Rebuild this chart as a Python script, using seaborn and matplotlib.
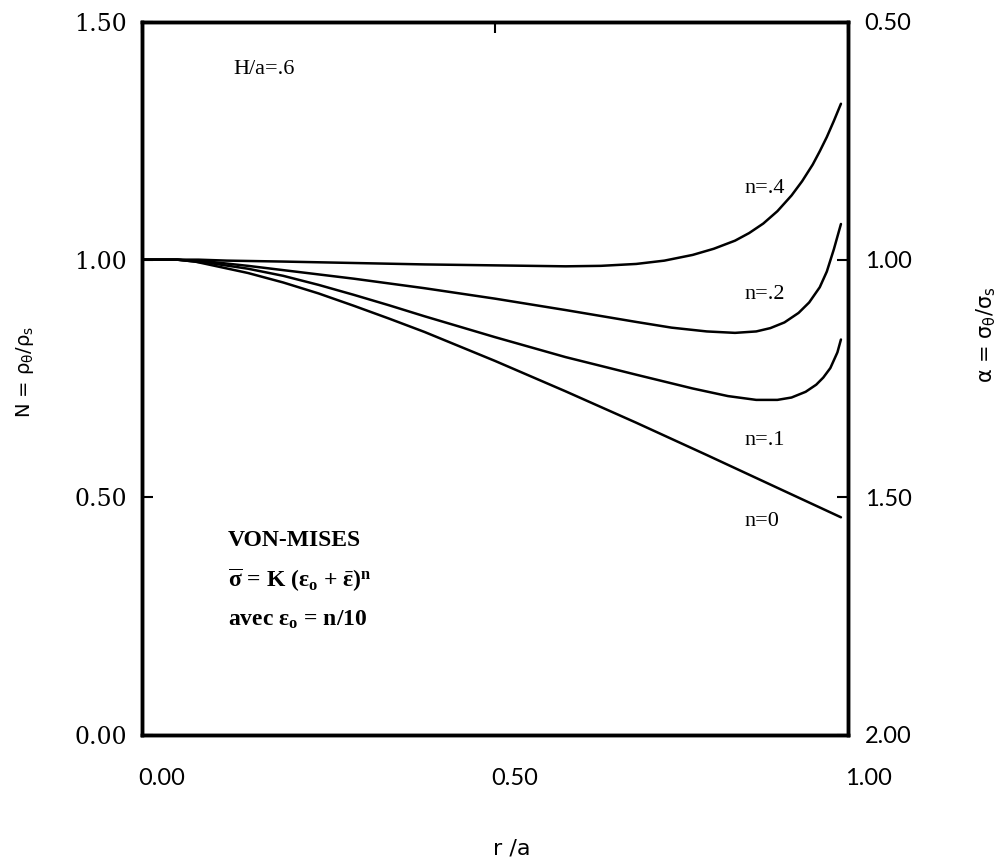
import numpy as np
import pandas as pd
import seaborn as sns
import matplotlib.pyplot as plt
from matplotlib.transforms import ScaledTranslation

# %% Values: N = rho_theta / rho_s against r/a, H/a = .6
r_n0 = [0.00, 0.05, 0.075, 0.10, 0.15, 0.20, 0.25, 0.30, 0.35, 0.40, 0.50, 0.60, 0.70, 0.80, 0.90, 0.99]
N_n0 = [1.000, 1.000, 0.996, 0.988, 0.972, 0.952, 0.929, 0.903, 0.876, 0.848, 0.787, 0.723, 0.657, 0.589, 0.520, 0.458]

r_n1 = [0.00, 0.05, 0.10, 0.15, 0.20, 0.25, 0.30, 0.35, 0.40, 0.50, 0.60, 0.70, 0.78, 0.83, 0.87, 0.90,
        0.92, 0.94, 0.955, 0.965, 0.975, 0.985, 0.99]
N_n1 = [1.000, 1.000, 0.992, 0.981, 0.966, 0.947, 0.926, 0.904, 0.881, 0.837, 0.795, 0.758, 0.729, 0.713, 0.705, 0.705,
        0.710, 0.722, 0.737, 0.752, 0.772, 0.805, 0.832]

r_n2 = [0.00, 0.05, 0.10, 0.15, 0.20, 0.30, 0.40, 0.50, 0.60, 0.70, 0.75, 0.80, 0.84, 0.87, 0.89,
        0.91, 0.93, 0.945, 0.96, 0.97, 0.98, 0.99]
N_n2 = [1.000, 1.000, 0.995, 0.987, 0.978, 0.960, 0.940, 0.918, 0.894, 0.869, 0.857, 0.849, 0.846, 0.849, 0.856,
        0.868, 0.888, 0.910, 0.942, 0.975, 1.022, 1.075]

r_n4 = [0.00, 0.04, 0.08, 0.12, 0.20, 0.30, 0.40, 0.50, 0.60, 0.65, 0.70, 0.74, 0.78, 0.81, 0.84, 0.86,
        0.88, 0.90, 0.92, 0.935, 0.95, 0.96, 0.97, 0.98, 0.99]
N_n4 = [1.000, 1.000, 1.000, 0.998, 0.996, 0.993, 0.990, 0.988, 0.986, 0.987, 0.991, 0.998, 1.010, 1.023, 1.040, 1.056,
        1.076, 1.102, 1.135, 1.165, 1.200, 1.228, 1.258, 1.292, 1.328]

curve_names = ['n=0', 'n=.1', 'n=.2', 'n=.4']
x_ticks = [0.0, 0.5, 1.0]
x_ticklabels = ['0.00', '0.50', '1.00']
y_ticks = [0.0, 0.5, 1.0, 1.5]
y_ticklabels = ['0.00', '0.50', '1.00', '1.50']
alpha_ticks = [0.5, 1.0, 1.5, 2.0]
alpha_ticklabels = ['0.50', '1.00', '1.50', '2.00']

df = pd.concat([
    pd.DataFrame({'r': r, 'N': N, 'n': name})
    for name, r, N in zip(curve_names, [r_n0, r_n1, r_n2, r_n4], [N_n0, N_n1, N_n2, N_n4])
])

# %% Plot
sns.set_style('white')
plt.rcParams['font.family'] = ['Liberation Serif', 'DejaVu Serif']
plt.rcParams['text.color'] = 'black'
plt.rcParams['xtick.color'] = 'black'
plt.rcParams['ytick.color'] = 'black'
# upright serif greek for the annotation formulas
plt.rcParams['mathtext.fontset'] = 'custom'
plt.rcParams['mathtext.rm'] = 'Liberation Serif'
plt.rcParams['mathtext.it'] = 'Liberation Serif'
plt.rcParams['mathtext.bf'] = 'Liberation Serif:bold'

W, H = 1008, 864
fig = plt.figure(figsize=(W / 100, H / 100), dpi=100)
left, right, top, bottom = 142, 848, 22, 735
ax = fig.add_axes([left / W, 1 - bottom / H, (right - left) / W, (bottom - top) / H])

sns.lineplot(data=df, x='r', y='N', hue='n', units='n', estimator=None, sort=False,
             palette=['black'] * 4, legend=False, linewidth=1.8, ax=ax)

ax.set_xlim(0, 1)
ax.set_ylim(0, 1.5)
ax.set_xlabel('')
ax.set_ylabel('')
ax.set_xticks(x_ticks)
ax.set_xticklabels(x_ticklabels, family='Lato', fontsize=17)
ax.set_yticks(y_ticks)
ax.set_yticklabels(y_ticklabels, family='DejaVu Serif', fontsize=17)
ax.tick_params(axis='x', direction='in', length=8, width=1.5, top=True, pad=24)
ax.tick_params(axis='y', direction='in', length=8, width=1.5, pad=11)
for lab in ax.get_xticklabels():
    lab.set_transform(lab.get_transform() + ScaledTranslation(0.2, 0, fig.dpi_scale_trans))
for s in ax.spines.values():
    s.set_linewidth(2.5)
    s.set_color('black')

# right axis: alpha = sigma_theta / sigma_s (inverted)
ax2 = ax.twinx()
ax2.set_ylim(2.0, 0.5)
ax2.set_yticks(alpha_ticks)
ax2.set_yticklabels(alpha_ticklabels, family='Lato', fontsize=17)
ax2.tick_params(axis='y', direction='in', length=8, width=1.5, pad=12)
for s in ax2.spines.values():
    s.set_linewidth(2.5)
    s.set_color('black')

# curve annotations
ax.text(0.13, 1.40, 'H/a=.6', fontsize=16, va='center')
ax.text(0.853, 1.15, 'n=.4', fontsize=16, va='center')
ax.text(0.853, 0.926, 'n=.2', fontsize=16, va='center')
ax.text(0.853, 0.62, 'n=.1', fontsize=16, va='center')
ax.text(0.853, 0.45, 'n=0', fontsize=16, va='center')

ax.text(0.122, 0.41, 'VON-MISES', fontsize=17, va='center', fontweight='bold')
ax.text(0.122, 0.326,
        r'$\mathbf{\overline{\sigma}}$ = K ($\mathbf{\varepsilon_o}$ + $\mathbf{\bar{\varepsilon}}$)$^\mathbf{n}$',
        fontsize=17, va='center', fontweight='bold')
ax.text(0.122, 0.242, r'avec $\mathbf{\varepsilon_o}$ = n/10', fontsize=17, va='center', fontweight='bold')

# axis titles
fig.text(25 / W, 1 - 372 / H, r'N = ρ$_\mathrm{\theta}$/ρ$_\mathrm{s}$', rotation=90, ha='center',
         va='center', family='DejaVu Sans', fontsize=14, math_fontfamily='dejavusans')
fig.text(986 / W, 1 - 335 / H, r'α = σ$_\mathrm{\theta}$/σ$_\mathrm{s}$', rotation=90, ha='center',
         va='center', family='DejaVu Sans', fontsize=15, math_fontfamily='dejavusans')
fig.text(512 / W, 1 - 848 / H, 'r /a', ha='center', va='center', family='DejaVu Sans', fontsize=16)

fig.savefig('out.png', dpi=100)
